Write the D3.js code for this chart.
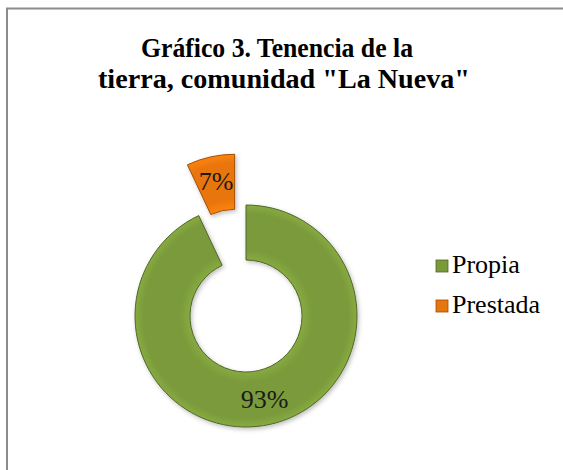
<!DOCTYPE html>
<html>
<head>
<meta charset="utf-8">
<script src="https://cdn.jsdelivr.net/npm/d3@7"></script>
<style>
  html, body { margin: 0; padding: 0; background: #fff; }
  svg { display: block; }
</style>
</head>
<body>
<svg id="chart" width="563" height="470"></svg>
<script>
const categories = ["Propia", "Prestada"];
const values = [93, 7];
const labels = ["93%", "7%"];
const colors = ["#7A9A3A", "#E8760F"];
const strokes = ["#4f6626", "#a04c06"];
const titleLines = ["Gráfico 3. Tenencia de la", "tierra, comunidad \"La Nueva\""];

const svg = d3.select("#chart");
const font = "'Liberation Serif', 'Times New Roman', serif";

// chart border (only top/left visible in frame)
svg.append("rect")
  .attr("x", 7).attr("y", 8.5)
  .attr("width", 800).attr("height", 800)
  .attr("fill", "#fff")
  .attr("stroke", "#8c8c8c").attr("stroke-width", 2);

// title
const title = svg.append("text")
  .attr("text-anchor", "middle")
  .attr("font-family", font)
  .attr("font-weight", "bold")
  .attr("font-size", 27)
  .attr("fill", "#000");
const titleLens = [272, 372];
titleLines.forEach((t, i) => {
  title.append("tspan").attr("x", i === 0 ? 277 : 284).attr("y", 57 + i * 31)
    .attr("textLength", titleLens[i]).attr("lengthAdjust", "spacingAndGlyphs")
    .text(t);
});

const cx = 246, cy = 316, R = 111, r = 56, explode = 52;

const defs = svg.append("defs");
const filt = defs.append("filter").attr("id", "shadow").attr("x", "-20%").attr("y", "-20%").attr("width", "140%").attr("height", "140%");
filt.append("feDropShadow").attr("dx", 1.5).attr("dy", 2).attr("stdDeviation", 2).attr("flood-color", "#000").attr("flood-opacity", 0.25);

colors.forEach((c, i) => {
  const g = defs.append("radialGradient").attr("id", "grad" + i)
    .attr("gradientUnits", "userSpaceOnUse")
    .attr("cx", 0).attr("cy", 0).attr("r", R);
  g.append("stop").attr("offset", "0.5").attr("stop-color", d3.color(c).brighter(0.3));
  g.append("stop").attr("offset", "0.6").attr("stop-color", c);
  g.append("stop").attr("offset", "0.92").attr("stop-color", c);
  g.append("stop").attr("offset", "1").attr("stop-color", d3.color(c).brighter(0.3));
});

const pie = d3.pie().sort(null).value(d => d)(values);
const arc = d3.arc().innerRadius(r).outerRadius(R);
const labelArc = d3.arc().innerRadius((R + r) / 2 + 2).outerRadius((R + r) / 2 + 2);

const root = svg.append("g").attr("transform", `translate(${cx},${cy})`);

pie.forEach((p, i) => {
  const mid = (p.startAngle + p.endAngle) / 2;
  const off = i === 1 ? explode : 0;
  const dx = Math.sin(mid) * off, dy = -Math.cos(mid) * off;
  const g = root.append("g").attr("transform", `translate(${dx},${dy})`);
  g.append("path")
    .attr("d", arc(p))
    .attr("fill", `url(#grad${i})`)
    .attr("stroke", strokes[i])
    .attr("stroke-width", 1)
    .attr("filter", "url(#shadow)");
  const [lx, ly] = labelArc.centroid(p);
  g.append("text")
    .attr("x", lx).attr("y", ly)
    .attr("text-anchor", "middle")
    .attr("dominant-baseline", "central")
    .attr("font-family", font)
    .attr("font-size", 26)
    .attr("fill", "#1a1a1a")
    .text(labels[i]);
});

// legend
const legend = svg.append("g").attr("transform", "translate(436,260)");
categories.forEach((c, i) => {
  const row = legend.append("g").attr("transform", `translate(0,${i * 40})`);
  row.append("rect").attr("width", 12).attr("height", 12)
    .attr("fill", colors[i]).attr("stroke", strokes[i]).attr("stroke-width", 0.8);
  row.append("text")
    .attr("x", 16).attr("y", 13)
    .attr("font-family", font)
    .attr("font-size", 26)
    .attr("fill", "#000")
    .text(c);
});
</script>
</body>
</html>
